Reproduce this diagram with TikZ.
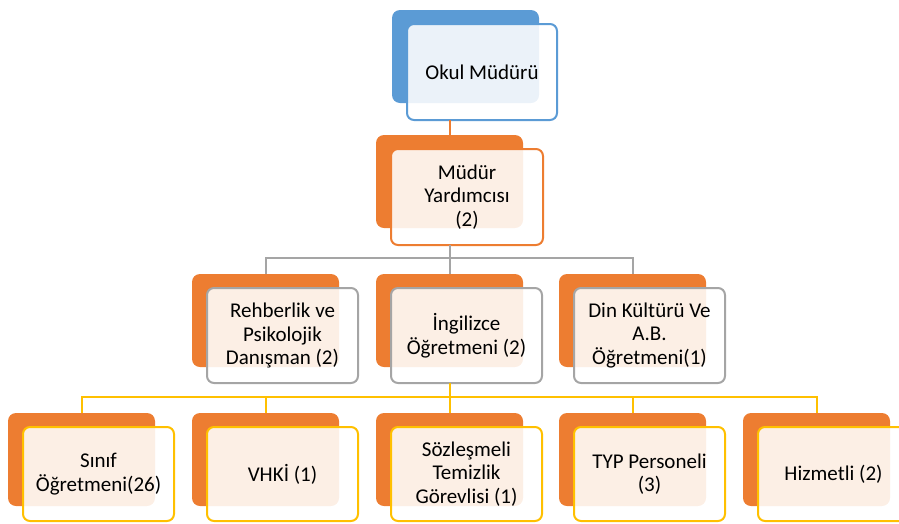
\documentclass[tikz,border=0pt]{standalone}
\usepackage{fontspec}
\setmainfont{Carlito}
\definecolor{cblue}{HTML}{5B9BD5}
\definecolor{corange}{HTML}{ED7D31}
\definecolor{cgray}{HTML}{A5A5A5}
\definecolor{cgold}{HTML}{FFC000}
\begin{document}
\begin{tikzpicture}[x=1pt,y=-1pt,
  backbox/.style={rectangle, rounded corners=8pt, minimum width=147pt, minimum height=93pt, anchor=north west, inner sep=0pt, outer sep=0pt, fill=#1},
  backbox/.default=corange,
  frontbox/.style={rectangle, rounded corners=7pt, minimum width=151pt, minimum height=95pt, anchor=north west, line width=2pt, draw=#1, fill=white, fill opacity=0.88, text opacity=1, align=center, font=\fontsize{21}{23.5}\selectfont, inner sep=0pt, outer sep=0pt},
  conn/.style={draw=#1, line width=2pt}
]
\useasboundingbox (0,0) rectangle (899,523);
% top
\node[backbox=cblue] (b1) at (392,10) {};
\node[frontbox=cblue, minimum width=150pt, minimum height=96pt] (f1) at (407,24) {Okul Müdürü};
% row 2
\node[backbox] (b2) at (376,135) {};
\node[frontbox=corange, minimum width=152pt, minimum height=96pt] (f2) at (391,149) {Müdür\\Yardımcısı\\(2)};
% row 3
\node[backbox] (b31) at (192,274) {};
\node[backbox] (b32) at (376,274) {};
\node[backbox] (b33) at (559,274) {};
\node[frontbox=cgray] (f31) at (207,288) {Rehberlik ve\\Psikolojik\\Danışman (2)};
\node[frontbox=cgray] (f32) at (391,288) {İngilizce\\Öğretmeni (2)};
\node[frontbox=cgray] (f33) at (574,288) {Din Kültürü Ve\\A.B.\\Öğretmeni(1)};
% row 4
\node[backbox] (b41) at (8,413) {};
\node[backbox] (b42) at (192,413) {};
\node[backbox] (b43) at (376,413) {};
\node[backbox] (b44) at (559,413) {};
\node[backbox] (b45) at (743,413) {};
\node[frontbox=cgold, minimum height=94pt] (f41) at (23,427) {Sınıf\\Öğretmeni(26)};
\node[frontbox=cgold, minimum height=94pt] (f42) at (207,427) {VHKİ (1)};
\node[frontbox=cgold, minimum height=94pt] (f43) at (391,427) {Sözleşmeli\\Temizlik\\Görevlisi (1)};
\node[frontbox=cgold, minimum height=94pt] (f44) at (574,427) {TYP Personeli\\(3)};
\node[frontbox=cgold, minimum height=94pt] (f45) at (758,427) {Hizmetli (2)};
% connectors
\draw[conn=corange] (b2.north |- f1.south) -- (b2.north);
\coordinate (gbar) at (449.5,258);
\draw[conn=cgray] (b2.south |- f2.south) -- (gbar);
\draw[conn=cgray] (b31.north) |- (gbar) -| (b33.north);
\draw[conn=cgray] (gbar) -- (b32.north);
\coordinate (ybar) at (449.5,397);
\draw[conn=cgold] (b32.south |- f32.south) -- (ybar);
\draw[conn=cgold] (b41.north) |- (ybar) -| (b45.north);
\draw[conn=cgold] (b42.north |- ybar) -- (b42.north);
\draw[conn=cgold] (ybar) -- (b43.north);
\draw[conn=cgold] (b44.north |- ybar) -- (b44.north);
\end{tikzpicture}
\end{document}
